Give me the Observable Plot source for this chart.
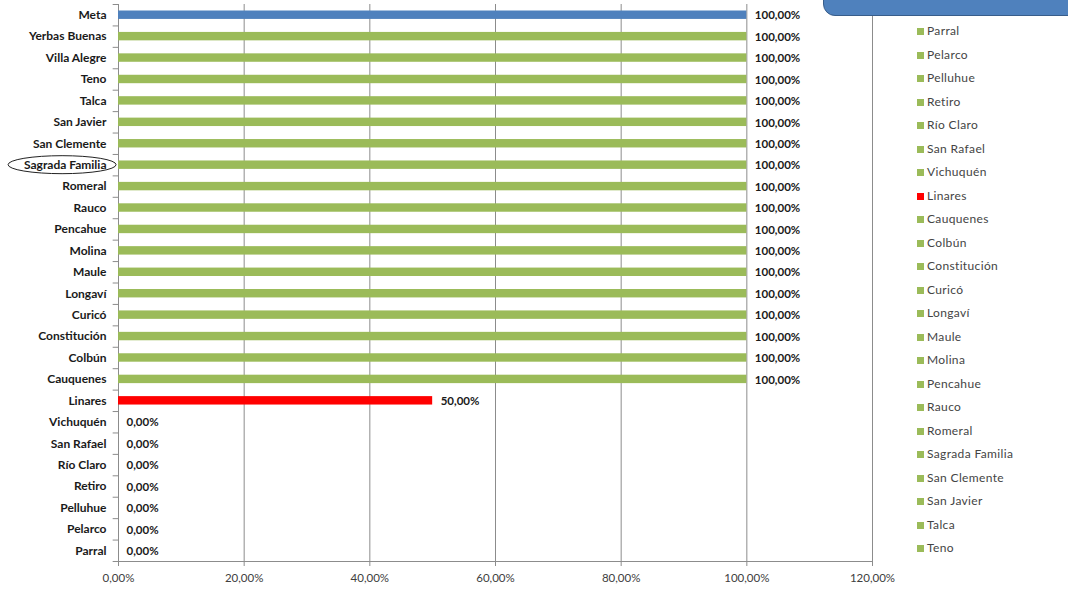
<!DOCTYPE html>
<html><head><meta charset="utf-8">
<script src="https://cdn.jsdelivr.net/npm/d3@7"></script>
<script src="https://cdn.jsdelivr.net/npm/@observablehq/plot@0.6"></script>
<style>
body{margin:0;background:#fff;font-family:Lato,"Liberation Sans",sans-serif;}
#wrap{position:relative;width:1068px;height:590px;overflow:hidden;}
#box{position:absolute;left:823px;top:-20px;width:300px;height:34px;background:#4F81BD;border:1.5px solid #385D8A;border-radius:12px;}
#legend{position:absolute;left:0;top:0;}
.li{position:absolute;left:917px;font-size:12px;letter-spacing:0.35px;color:#444;white-space:nowrap;line-height:12px;}
.sw{display:inline-block;width:7px;height:7px;margin-right:3px;vertical-align:0px;}
</style></head>
<body><div id="wrap"><div id="box"></div><div id="legend"></div></div>
<script>
const categories = ["Meta","Yerbas Buenas","Villa Alegre","Teno","Talca","San Javier","San Clemente","Sagrada Familia","Romeral","Rauco","Pencahue","Molina","Maule","Longaví","Curicó","Constitución","Colbún","Cauquenes","Linares","Vichuquén","San Rafael","Río Claro","Retiro","Pelluhue","Pelarco","Parral"];
const values = [100,100,100,100,100,100,100,100,100,100,100,100,100,100,100,100,100,100,50,0,0,0,0,0,0,0];
const xTicks = [0,20,40,60,80,100,120];
const legendItems = ["Parral","Pelarco","Pelluhue","Retiro","Río Claro","San Rafael","Vichuquén","Linares","Cauquenes","Colbún","Constitución","Curicó","Longaví","Maule","Molina","Pencahue","Rauco","Romeral","Sagrada Familia","San Clemente","San Javier","Talca","Teno"];
const highlighted = "Sagrada Familia";

const colorOf = c => c === "Meta" ? "#4F81BD" : c === "Linares" ? "#FF0000" : "#9BBB59";
const data = categories.map((c,i)=>({cat:c, v:values[i], color:colorOf(c)}));
const fmt = d => d.toFixed(2).replace(".", ",") + "%";

const H = 590, mt = 4, mb = 29;
const band = (H - mt - mb) / categories.length;

const chart = Plot.plot({
  width: 1068, height: H,
  marginLeft: 118, marginRight: 196, marginTop: mt, marginBottom: mb,
  style: {fontFamily: "Lato, 'Liberation Sans', sans-serif", overflow: "visible"},
  x: {domain: [0,120], label: null},
  y: {domain: categories, padding: 0, round: false, label: null},
  marks: [
    Plot.gridX(xTicks, {stroke: "#8c8c8c", strokeOpacity: 1, strokeWidth: 1}),
    Plot.frame({anchor: "left", stroke: "#8c8c8c"}),
    Plot.frame({anchor: "bottom", stroke: "#8c8c8c"}),
    Plot.barX(data, {y: "cat", x: "v", fill: d => d.color, insetTop: 6.5, insetBottom: 6.5}),
    Plot.text(data, {y: "cat", x: "v", text: d => fmt(d.v), textAnchor: "start", dx: 8, dy: 0.5, fontWeight: "bold", fontSize: 11.5, fill: "#1a1a1a"}),
    Plot.ruleY(categories, {y: d => d, x1: -0.85, x2: 0, dy: band/2, stroke: "#8c8c8c", clip: false}),
    Plot.ruleY(categories.slice(0,1), {y: d => d, x1: -0.85, x2: 0, dy: -band/2, stroke: "#8c8c8c", clip: false}),
    Plot.axisY({tickSize: 0, tickPadding: 12, fontWeight: "bold", fontSize: 12, color: "#1a1a1a", label: null}),
    Plot.axisX(xTicks, {tickFormat: fmt, tickSize: 5, tickPadding: 7, fontSize: 11.5, color: "#404040", stroke: "#8c8c8c", label: null}),
    Plot.dot([highlighted], {y: d => d, x: -8.9, r: 1, clip: false, stroke: "none",
      render: (index, scales, values, dims, ctx) => {
        const g = d3.create("svg:g");
        const cy = values.y[0] + band/2;
        const cx = values.x[0];
        g.append("ellipse").attr("cx", cx).attr("cy", cy).attr("rx", 54).attr("ry", 9)
          .attr("fill", "none").attr("stroke", "#222").attr("stroke-width", 1);
        return g.node();
      }})
  ]
});
document.getElementById("wrap").prepend(chart);
chart.style.position = "absolute"; chart.style.left = "0"; chart.style.top = "0";

const lg = document.getElementById("legend");
legendItems.forEach((name,i)=>{
  const d = document.createElement("div");
  d.className = "li";
  d.style.top = (25 + i*23.5) + "px";
  d.innerHTML = `<span class="sw" style="background:${colorOf(name)}"></span>${name}`;
  lg.appendChild(d);
});
</script></body></html>
